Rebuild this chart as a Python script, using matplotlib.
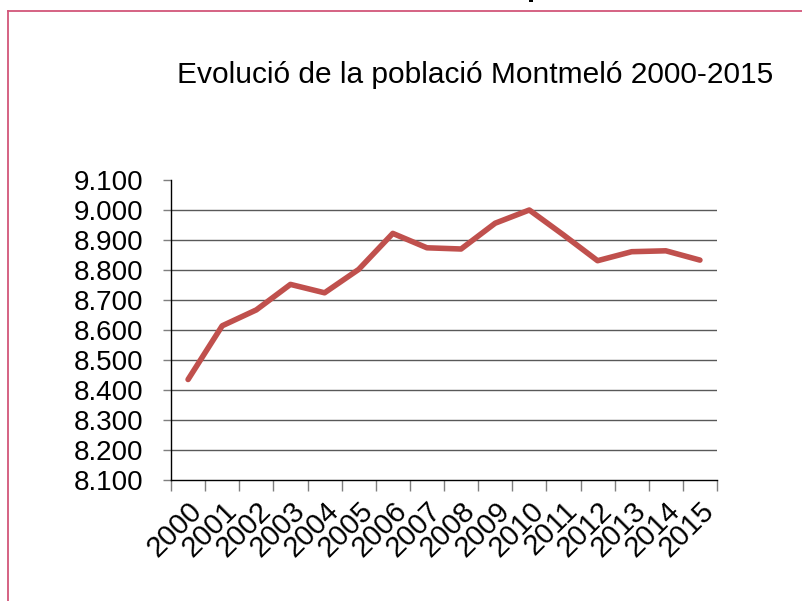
import matplotlib
matplotlib.use("Agg")
import matplotlib.pyplot as plt
from matplotlib.lines import Line2D
from matplotlib.ticker import FixedLocator, FuncFormatter

plt.rcParams["font.family"] = ["Liberation Sans", "DejaVu Sans"]

YEARS = [str(y) for y in range(2000, 2016)]
POPULATION = [8435, 8614, 8667, 8752, 8724, 8802, 8922, 8874,
              8870, 8956, 9000, 8917, 8831, 8861, 8864, 8833]
Y_TICKS = list(range(8100, 9101, 100))
TITLE = "Evolució de la població Montmeló 2000-2015"

W, H = 802, 601
fig = plt.figure(figsize=(W / 100, H / 100), dpi=100)
ax = fig.add_axes([171 / W, 1 - 480 / H, 546 / W, 300 / H])

x = list(range(len(YEARS)))
ax.plot(x, POPULATION, color="#c0504d", lw=4.0, solid_capstyle="round",
        solid_joinstyle="round", zorder=3)

ax.set_xlim(-0.5, len(YEARS) - 0.5)
ax.set_ylim(Y_TICKS[0], Y_TICKS[-1])

# gridlines, none at the top value
for v in Y_TICKS[1:-1]:
    ax.axhline(v, color="#595959", lw=1.0, zorder=1)

ax.set_yticks(Y_TICKS)
ax.yaxis.set_major_formatter(FuncFormatter(lambda v, p: f"{int(v):,}".replace(",", ".")))
ax.tick_params(axis="y", direction="out", length=6, width=1, color="#7f7f7f",
               labelsize=20, pad=14)

# categories centred, ticks between them
ax.set_xticks(x)
ax.set_xticklabels(YEARS, rotation=45, ha="right", rotation_mode="anchor")
ax.xaxis.set_minor_locator(FixedLocator([i - 0.5 for i in range(len(YEARS) + 1)]))
ax.tick_params(axis="x", which="major", length=0, labelsize=21, pad=12)
ax.tick_params(axis="x", which="minor", direction="out", length=8, width=1,
               color="#7f7f7f")

for s in ["top", "right"]:
    ax.spines[s].set_visible(False)
for s in ["left", "bottom"]:
    ax.spines[s].set_color("black")
    ax.spines[s].set_linewidth(1.0)

fig.text(475 / W, 1 - 75 / H, TITLE, ha="center", va="center", fontsize=21.5)

# frame of the surrounding slide and the cut-off heading above it
pink = "#d2567a"
fig.add_artist(Line2D([8 / W, 1], [1 - 10.5 / H] * 2, color=pink, lw=1.3,
                      transform=fig.transFigure))
fig.add_artist(Line2D([8 / W] * 2, [0, 1 - 10.5 / H], color=pink, lw=1.3,
                      transform=fig.transFigure))
fig.text(526 / W, 1 + 4 / H, "p", fontsize=21, fontweight="bold",
         ha="left", va="baseline")

fig.savefig("out.png", dpi=100)
